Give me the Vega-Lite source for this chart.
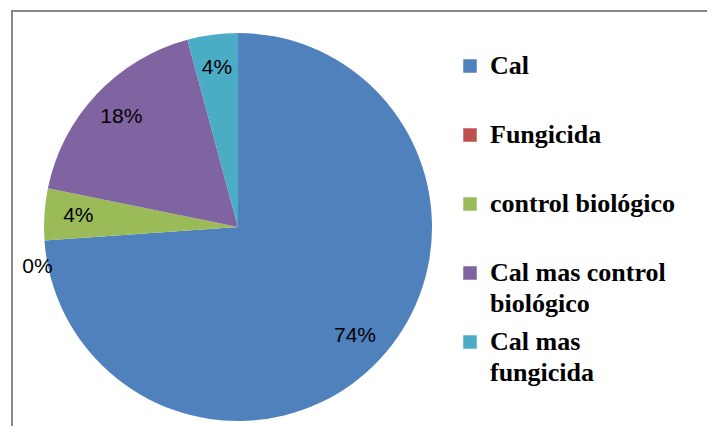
{
  "$schema": "https://vega.github.io/schema/vega-lite/v6.json",
  "width": 698,
  "height": 418,
  "autosize": {"type": "none"},
  "padding": {"left": 12, "top": 11, "right": -3, "bottom": -3},
  "background": "white",
  "view": {"stroke": "#878787", "strokeWidth": 2, "fill": "white"},
  "config": {
    "view": {"stroke": "#878787", "strokeWidth": 2},
    "legend": {"labelFont": "Liberation Serif", "labelFontWeight": "bold"},
    "text": {"font": "Liberation Sans"},
    "style": {"guide-label": {"lineHeight": 31, "font": "Liberation Serif"}}
  },
  "data": {
    "values": [
      {"orden": 1, "tratamiento": "Cal", "porcentaje": 0.739},
      {"orden": 2, "tratamiento": "Fungicida", "porcentaje": 0},
      {"orden": 3, "tratamiento": "control biológico", "porcentaje": 0.043},
      {"orden": 4, "tratamiento": "Cal mas control biológico", "porcentaje": 0.176},
      {"orden": 5, "tratamiento": "Cal mas fungicida", "porcentaje": 0.042}
    ]
  },
  "encoding": {
    "theta": {"field": "porcentaje", "type": "quantitative", "stack": true},
    "order": {"field": "orden", "type": "quantitative"}
  },
  "layer": [
    {
      "mark": {"type": "arc", "radius": 194, "x": 226, "y": 216},
      "encoding": {
        "color": {
          "field": "tratamiento",
          "type": "nominal",
          "sort": ["Cal", "Fungicida", "control biológico", "Cal mas control biológico", "Cal mas fungicida"],
          "scale": {
            "domain": ["Cal", "Fungicida", "control biológico", "Cal mas control biológico", "Cal mas fungicida"],
            "range": ["#4F81BD", "#C0504D", "#9BBB59", "#8064A2", "#4BACC6"]
          },
          "legend": {
            "orient": "none",
            "legendX": 445,
            "legendY": 42,
            "title": null,
            "padding": 0,
            "symbolType": "square",
            "symbolSize": 182,
            "symbolStrokeWidth": 0,
            "symbolOpacity": 1,
            "labelFont": "Liberation Serif",
            "labelFontWeight": "bold",
            "labelFontSize": 26,
            "labelColor": "black",
            "labelOffset": 7,
            "labelLimit": 0,
            "rowPadding": 12,
            "labelExpr": "datum.label == 'Cal mas control biológico' ? ['Cal mas control', 'biológico'] : datum.label == 'Cal mas fungicida' ? ['Cal mas', 'fungicida'] : [datum.label, '']"
          }
        }
      }
    },
    {
      "mark": {"type": "text", "radius": 160, "x": 226, "y": 216, "font": "Liberation Sans", "fontSize": 21, "color": "black"},
      "encoding": {
        "text": {"field": "porcentaje", "type": "quantitative", "format": ".0%"},
        "opacity": {"condition": {"test": "datum.porcentaje == 0", "value": 0}, "value": 1}
      }
    },
    {
      "mark": {"type": "text", "radius": 201, "x": 226, "y": 216, "dy": 26, "font": "Liberation Sans", "fontSize": 21, "color": "black"},
      "encoding": {
        "text": {"field": "porcentaje", "type": "quantitative", "format": ".0%"},
        "opacity": {"condition": {"test": "datum.porcentaje == 0", "value": 1}, "value": 0}
      }
    }
  ]
}
